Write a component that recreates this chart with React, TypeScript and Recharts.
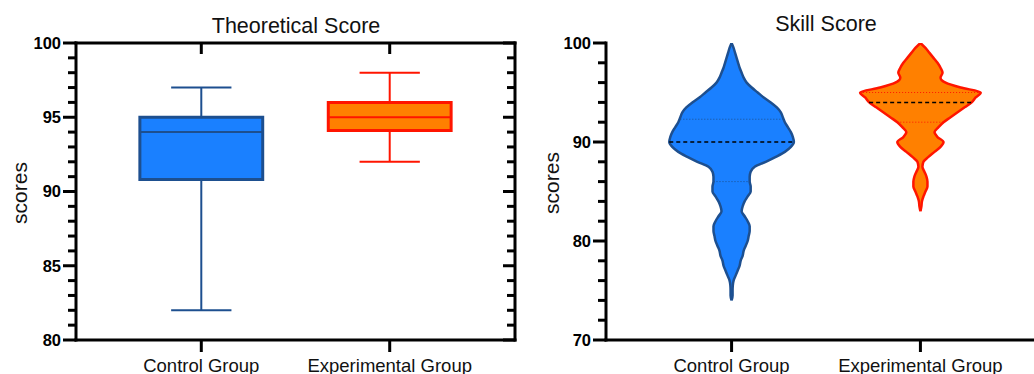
import React from 'react'
import { Area, ComposedChart, ReferenceArea, ReferenceLine, Scatter, XAxis, YAxis } from 'recharts'

const groups = ['Control Group', 'Experimental Group']
const positions = [1, 2]

// Theoretical Score – box plot
const theoMin = [82, 92]
const theoQ1 = [90.8, 94.1]
const theoMedian = [94, 95]
const theoQ3 = [95, 96]
const theoMax = [97, 98]
const theoTicks = [80, 81, 82, 83, 84, 85, 86, 87, 88, 89, 90, 91, 92, 93, 94, 95, 96, 97, 98, 99, 100]

// Skill Score – violin outline (half width, px-like units)
const skillLevels = [
  100, 99.5, 99, 98.5, 98, 97.5, 97, 96.5, 96, 95.5, 95, 94.5, 94, 93.5, 93, 92.5, 92, 91.5, 91, 90.5, 90,
  89.5, 89, 88.5, 88, 87.5, 87, 86.5, 86, 85.5, 85, 84.5, 84, 83.5, 83, 82.5, 82, 81.5, 81, 80.5, 80,
  79.5, 79, 78.5, 78, 77.5, 77, 76.5, 76, 75.5, 75, 74.5, 74,
]
const ctrlDensity = [
  0, 2, 3.5, 5, 6.5, 8, 10, 12, 15, 20, 26, 32, 39, 45, 49, 51, 53, 56, 59, 61, 62,
  59, 53, 44, 34, 23, 19, 18, 18, 19, 19, 16, 13, 11, 10, 13, 16, 18, 18, 17, 16,
  14, 12, 11, 9, 8, 6, 4, 2, 1.2, 1, 1, 0,
]
const expDensity = [
  0, 5, 9, 13, 17, 20, 22, 20, 25, 40, 60, 55, 51, 44, 37, 30, 23, 18, 14, 17, 23,
  20, 14, 8, 3, 2, 4, 6, 7, 7, 5, 3, 1.5, 1, 0, null, null, null, null, null, null,
  null, null, null, null, null, null, null, null, null, null, null, null,
]
const skillQ1 = [86, 92]
const skillMedian = [90, 94]
const skillQ3 = [92.3, 95]
const skillTicks = [70, 72, 74, 76, 78, 80, 82, 84, 86, 88, 90, 92, 94, 96, 98, 100]

const FONT = '"Liberation Sans", Arial, Helvetica, sans-serif'
const X_DOMAIN = [0.335, 2.665]
const BOX_HALF = 0.326
const CAP_HALF = 0.16
const DENSITY_SCALE = 0.33 / 62

const BLUE_FILL = '#1a80ff'
const BLUE_LINE = '#1d4f8f'
const ORANGE_FILL = '#ff8000'
const RED_LINE = '#ff1500'
const fills = [BLUE_FILL, ORANGE_FILL]
const lines = [BLUE_LINE, RED_LINE]

const AXIS_LINE = { stroke: '#000', strokeWidth: 3, strokeLinecap: 'square' as const }

const theoRows = positions.map((x, i) => ({ x, median: theoMedian[i] }))

const rangeAt = (d: number | null, pos: number) =>
  d == null ? [null, null] : [pos - d * DENSITY_SCALE, pos + d * DENSITY_SCALE]

const violinData = skillLevels.map((y, i) => ({
  y,
  ctrl: rangeAt(ctrlDensity[i], positions[0]),
  exp: rangeAt(expDensity[i], positions[1]),
}))

const densities = [ctrlDensity, expDensity]
function halfWidthAt(dens: (number | null)[], v: number) {
  let best = 0
  skillLevels.forEach((l, i) => {
    if (Math.abs(l - v) < Math.abs(skillLevels[best] - v)) best = i
  })
  return (dens[best] ?? 0) * DENSITY_SCALE
}

const leftTick = (major: number) => (props: any) => {
  const { x, y, payload } = props
  const isMajor = Math.round(payload.value) % major === 0
  const len = isMajor ? 13 : 8
  return (
    <g>
      <line x1={x - len} y1={y} x2={x} y2={y} stroke='#000' strokeWidth={3} />
      {isMajor && (
        <text x={x - len - 2} y={y} dy='0.36em' textAnchor='end' fontFamily={FONT} fontWeight='bold' fontSize={16.5} fill='#000'>
          {payload.value}
        </text>
      )}
    </g>
  )
}

const rightTick = (major: number) => (props: any) => {
  const { x, y, payload } = props
  const len = Math.round(payload.value) % major === 0 ? 12 : 8
  return <line x1={x - len} y1={y} x2={x} y2={y} stroke='#000' strokeWidth={3} />
}

const TopTick = (props: any) => {
  const { x, y } = props
  return <line x1={x} y1={y} x2={x} y2={y + 11} stroke='#000' strokeWidth={3} />
}

const BottomTick = (props: any) => {
  const { x, y, payload } = props
  const name = groups[positions.indexOf(payload.value)]
  return (
    <g>
      <line x1={x} y1={y} x2={x} y2={y + 12} stroke='#000' strokeWidth={3} />
      <text x={x} y={y + 32} textAnchor='middle' fontFamily={FONT} fontSize={18.5} fill='#111'>
        {name}
      </text>
    </g>
  )
}

function TheoreticalChart() {
  return (
    <ComposedChart width={520} height={374} data={theoRows} margin={{ top: 42, right: 4, bottom: 0, left: 0 }}>
      <XAxis dataKey='x' type='number' domain={X_DOMAIN} allowDataOverflow ticks={positions} interval={0} height={34}
        tickSize={0} tickMargin={0} tickLine={false} axisLine={AXIS_LINE} tick={BottomTick} />
      <XAxis xAxisId='top' dataKey='x' orientation='top' type='number' domain={X_DOMAIN} allowDataOverflow ticks={positions}
        interval={0} height={1} tickSize={0} tickMargin={0} tickLine={false} axisLine={AXIS_LINE} tick={TopTick} />
      <YAxis type='number' domain={[80, 100]} allowDataOverflow ticks={theoTicks} interval={0} width={76}
        tickSize={0} tickMargin={0} tickLine={false} axisLine={AXIS_LINE} tick={leftTick(5)} />
      <YAxis yAxisId='right' orientation='right' type='number' domain={[80, 100]} allowDataOverflow ticks={theoTicks}
        interval={0} width={1} tickSize={0} tickMargin={0} tickLine={false} axisLine={AXIS_LINE} tick={rightTick(5)} />
      <Scatter dataKey='median' shape={() => <g />} isAnimationActive={false} />
      {positions.map((pos, i) => (
        <ReferenceLine key={`wt${i}`} segment={[{ x: pos, y: theoQ3[i] }, { x: pos, y: theoMax[i] }]} stroke={lines[i]} strokeWidth={2} />
      ))}
      {positions.map((pos, i) => (
        <ReferenceLine key={`wb${i}`} segment={[{ x: pos, y: theoMin[i] }, { x: pos, y: theoQ1[i] }]} stroke={lines[i]} strokeWidth={2} />
      ))}
      {positions.map((pos, i) => (
        <ReferenceLine key={`ct${i}`} segment={[{ x: pos - CAP_HALF, y: theoMax[i] }, { x: pos + CAP_HALF, y: theoMax[i] }]} stroke={lines[i]} strokeWidth={2} />
      ))}
      {positions.map((pos, i) => (
        <ReferenceLine key={`cb${i}`} segment={[{ x: pos - CAP_HALF, y: theoMin[i] }, { x: pos + CAP_HALF, y: theoMin[i] }]} stroke={lines[i]} strokeWidth={2} />
      ))}
      {positions.map((pos, i) => (
        <ReferenceArea key={`box${i}`} x1={pos - BOX_HALF} x2={pos + BOX_HALF} y1={theoQ1[i]} y2={theoQ3[i]}
          fill={fills[i]} fillOpacity={1} stroke={lines[i]} strokeWidth={3} />
      ))}
      {positions.map((pos, i) => (
        <ReferenceLine key={`med${i}`} segment={[{ x: pos - BOX_HALF, y: theoMedian[i] }, { x: pos + BOX_HALF, y: theoMedian[i] }]}
          stroke={lines[i]} strokeWidth={2} />
      ))}
    </ComposedChart>
  )
}

function SkillChart() {
  return (
    <ComposedChart layout='vertical' width={540} height={374} data={violinData} margin={{ top: 43, right: 14, bottom: 0, left: 0 }}>
      <XAxis type='number' domain={X_DOMAIN} allowDataOverflow ticks={positions} interval={0} height={34}
        tickSize={0} tickMargin={0} tickLine={false} axisLine={AXIS_LINE} tick={BottomTick} />
      <XAxis xAxisId='top' orientation='top' type='number' domain={X_DOMAIN} allowDataOverflow height={0}
        tick={false} tickLine={false} axisLine={AXIS_LINE} />
      <YAxis type='number' dataKey='y' domain={[70, 100]} allowDataOverflow reversed ticks={skillTicks} interval={0} width={86}
        tickSize={0} tickMargin={0} tickLine={false} axisLine={AXIS_LINE} tick={leftTick(10)} />
      <Area dataKey='ctrl' type='monotone' stroke={BLUE_LINE} strokeWidth={2.5} fill={BLUE_FILL} fillOpacity={1}
        dot={false} activeDot={false} isAnimationActive={false} />
      <Area dataKey='exp' type='monotone' stroke={RED_LINE} strokeWidth={2.5} fill={ORANGE_FILL} fillOpacity={1}
        dot={false} activeDot={false} isAnimationActive={false} />
      {positions.map((pos, i) => {
        const w = halfWidthAt(densities[i], skillQ3[i])
        return (
          <ReferenceLine key={`q3${i}`} segment={[{ x: pos - w, y: skillQ3[i] }, { x: pos + w, y: skillQ3[i] }]}
            stroke={lines[i]} strokeWidth={1} strokeDasharray='1 2' />
        )
      })}
      {positions.map((pos, i) => {
        const w = halfWidthAt(densities[i], skillQ1[i])
        return (
          <ReferenceLine key={`q1${i}`} segment={[{ x: pos - w, y: skillQ1[i] }, { x: pos + w, y: skillQ1[i] }]}
            stroke={lines[i]} strokeWidth={1} strokeDasharray='1 2' />
        )
      })}
      {positions.map((pos, i) => {
        const w = halfWidthAt(densities[i], skillMedian[i])
        return (
          <ReferenceLine key={`md${i}`} segment={[{ x: pos - w, y: skillMedian[i] }, { x: pos + w, y: skillMedian[i] }]}
            stroke='#000' strokeWidth={1.5} strokeDasharray='4 3' />
        )
      })}
    </ComposedChart>
  )
}

export default function App() {
  return (
    <div style={{ position: 'absolute', left: 0, top: 0, width: 1034, height: 374, overflow: 'hidden', background: '#fff' }}>
      <div style={{ position: 'absolute', left: 0, top: 0 }}>
        <TheoreticalChart />
      </div>
      <div style={{ position: 'absolute', left: 520, top: 0 }}>
        <SkillChart />
      </div>
      <svg width={1034} height={374} style={{ position: 'absolute', left: 0, top: 0, pointerEvents: 'none' }}>
        <text x={296} y={33} textAnchor='middle' fontFamily={FONT} fontSize={21.5} fill='#111'>Theoretical Score</text>
        <text x={826} y={31} textAnchor='middle' fontFamily={FONT} fontSize={21.5} fill='#111'>Skill Score</text>
        <text transform='translate(27,193) rotate(-90)' textAnchor='middle' fontFamily={FONT} fontSize={21} fill='#111'>scores</text>
        <text transform='translate(559,183) rotate(-90)' textAnchor='middle' fontFamily={FONT} fontSize={21} fill='#111'>scores</text>
      </svg>
    </div>
  )
}
